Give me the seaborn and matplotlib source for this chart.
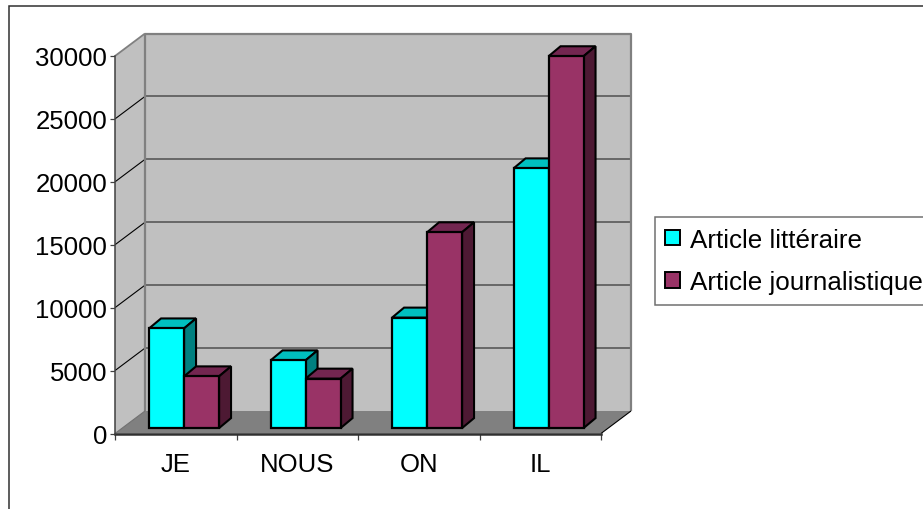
import matplotlib
matplotlib.use("Agg")
import matplotlib.pyplot as plt
from matplotlib.lines import Line2D
from matplotlib.patches import Patch, Polygon
import pandas as pd
import seaborn as sns

pronouns = ["JE", "NOUS", "ON", "IL"]
series_names = ["Article littéraire", "Article journalistique"]
litteraire = [7920, 5380, 8780, 20640]
journalistique = [4110, 3930, 15560, 29550]
y_ticks = [0, 5000, 10000, 15000, 20000, 25000, 30000]

# Flat colours of the front, top and side of each box
front_colors = ["#00FFFF", "#993366"]
top_colors = ["#00BFBF", "#732650"]
side_colors = ["#008080", "#4D1933"]

W, H = 923, 510
AX_L, AX_R, AX_T, AX_B = 115, 601, 57, 434.5

sns.set_theme(style="white")
plt.rcParams["font.family"] = ["Liberation Sans", "DejaVu Sans"]

fig = plt.figure(figsize=(W / 100, H / 100), dpi=100, facecolor="white")
ax = fig.add_axes([AX_L / W, 1 - AX_B / H, (AX_R - AX_L) / W, (AX_B - AX_T) / H])
ax.set_facecolor("none")

frame = pd.DataFrame({
    "pronom": pronouns * 2,
    "article": [series_names[0]] * 4 + [series_names[1]] * 4,
    "valeur": litteraire + journalistique,
})
sns.barplot(data=frame, x="pronom", y="valeur", hue="article", order=pronouns,
            hue_order=series_names, palette=front_colors, width=0.576, gap=0,
            dodge=True, legend=False, saturation=1, ax=ax)
bars = sorted(ax.patches, key=lambda p: p.get_x())

ax.set_xlim(-0.5, 3.5)
ax.set_ylim(0, 30000)
ax.set_xlabel("")
ax.set_ylabel("")

# Pixel distances expressed in data units, for the oblique projection
px_x = 4 / (AX_R - AX_L)
px_y = 30000 / (AX_B - AX_T)
wall_dx, wall_dy = 30 * px_x, 22.5 * px_y
bar_shift_x, bar_shift_y = 8.3 * px_x, 5.4 * px_y
box_dx, box_dy = 12 * px_x, 10 * px_y


def face(points, fc, ec="none", lw=0, z=1, joinstyle="miter"):
    ax.add_patch(Polygon(points, closed=True, facecolor=fc, edgecolor=ec, linewidth=lw,
                         zorder=z, clip_on=False, joinstyle=joinstyle))


def seg(xs, ys, color, lw, z=1.5):
    ax.add_line(Line2D(xs, ys, color=color, linewidth=lw, zorder=z, clip_on=False,
                       solid_capstyle="butt"))


x0, x1 = -0.5, 3.5
ymax = 30000

# Walls and floor of the box behind the bars
face([(x0, 0), (x0 + wall_dx, wall_dy), (x0 + wall_dx, ymax + wall_dy), (x0, ymax)], "#C0C0C0", z=1)
face([(x0 + wall_dx, wall_dy), (x1 + wall_dx, wall_dy), (x1 + wall_dx, ymax + wall_dy),
      (x0 + wall_dx, ymax + wall_dy)], "#C0C0C0", z=1)
face([(x0, 0), (x0 + wall_dx, wall_dy), (x1 + wall_dx, wall_dy), (x1, 0)], "#808080", z=1.2)

for v in y_ticks[1:-1]:
    seg([x0 + wall_dx, x1 + wall_dx], [v + wall_dy, v + wall_dy], "#606060", 1.3)
    seg([x0, x0 + wall_dx], [v, v + wall_dy], "black", 0.8)
seg([x0 + wall_dx, x1 + wall_dx, x1 + wall_dx], [ymax + wall_dy, ymax + wall_dy, wall_dy], "#808080", 1.6)
seg([x0 + wall_dx, x0 + wall_dx], [wall_dy, ymax + wall_dy], "#808080", 1.6)
seg([x0, x0 + wall_dx], [ymax, ymax + wall_dy], "#808080", 1.3)
seg([x1, x1 + wall_dx], [0, wall_dy], "black", 0.8)
seg([x0, x0 + wall_dx], [0, wall_dy], "#707070", 0.8)

# Each bar gets its top and side faces derived from its own rectangle
for rank, bar in enumerate(bars):
    series = rank % 2
    left = bar.get_x() + bar_shift_x
    right = left + bar.get_width()
    base = bar_shift_y
    tip = bar.get_height() + bar_shift_y
    z = 3 + series
    edge = dict(ec="black", lw=1.5, z=z)
    face([(left, tip), (right, tip), (right + box_dx, tip + box_dy), (left + box_dx, tip + box_dy)],
         top_colors[series], **edge)
    face([(right, base), (right + box_dx, base + box_dy), (right + box_dx, tip + box_dy), (right, tip)],
         side_colors[series], **edge)
    bar.set_x(left)
    bar.set_y(base)
    bar.set_edgecolor("black")
    bar.set_linewidth(1.6)
    bar.set_zorder(z + 0.5)
    bar.set_clip_on(False)

# Axis lines, ticks and labels
sns.despine(ax=ax, top=True, right=True)
ax.spines["left"].set_color("#404040")
ax.spines["left"].set_linewidth(1.1)
ax.spines["bottom"].set_color("#303030")
ax.spines["bottom"].set_linewidth(1.8)
ax.spines["bottom"].set_zorder(2)
ax.set_yticks(y_ticks)
ax.set_xticks(range(4), pronouns)
ax.set_xticks([-0.5, 0.5, 1.5, 2.5, 3.5], minor=True)
ax.tick_params(axis="y", which="major", left=True, length=3.5, width=0.9, color="#404040",
               labelsize=18.5, labelcolor="black", pad=2)
ax.tick_params(axis="x", which="major", bottom=False, length=0, labelsize=18.5,
               labelcolor="black", pad=13)
ax.tick_params(axis="x", which="minor", bottom=True, length=4.5, width=0.9, color="#404040")

# Chart area outline: only its top and left edges fall inside the image
fig.add_artist(Line2D([8.5 / W, 8.5 / W, 1], [0, 1 - 6.5 / H, 1 - 6.5 / H], color="#303030",
                      linewidth=1.1, solid_joinstyle="miter"))

handles = [Patch(facecolor=c, edgecolor="black", linewidth=1.4) for c in front_colors]
legend = fig.legend(handles, series_names, loc="upper left",
                    bbox_to_anchor=(654.5 / W, 1 - 218 / H), fontsize=18.7, frameon=True,
                    fancybox=False, edgecolor="#707070", facecolor="white", framealpha=1,
                    borderpad=0.42, borderaxespad=0, handlelength=0.58, handleheight=0.54,
                    handletextpad=0.36, labelspacing=0.7, labelcolor="black")
legend.get_frame().set_linewidth(1.1)

fig.savefig("out.png", dpi=100)
